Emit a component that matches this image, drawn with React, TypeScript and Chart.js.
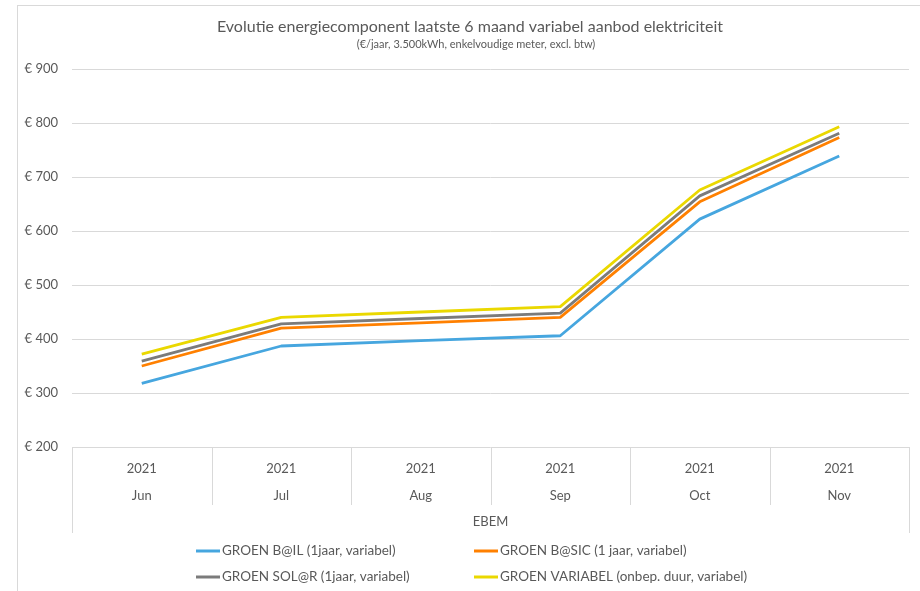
import React, { useEffect, useRef } from "react";
import { Chart, registerables } from "chart.js";

Chart.register(...registerables);

const TITLE = "Evolutie energiecomponent laatste 6 maand variabel aanbod elektriciteit";
const SUBTITLE = "(€/jaar, 3.500kWh, enkelvoudige meter, excl. btw)";
const GROUP_LABEL = "EBEM";

const YEARS = ["2021", "2021", "2021", "2021", "2021", "2021"];
const MONTHS = ["Jun", "Jul", "Aug", "Sep", "Oct", "Nov"];

const SERIES_NAMES = [
  "GROEN B@IL (1jaar, variabel)",
  "GROEN B@SIC (1 jaar, variabel)",
  "GROEN SOL@R (1jaar, variabel)",
  "GROEN VARIABEL (onbep. duur, variabel)",
];
const BAIL = [318, 387, 397, 406, 622, 739];
const BASIC = [350, 420, 430, 440, 654, 773];
const SOLAR = [359, 428, 438, 448, 665, 781];
const VARIABEL = [372, 440, 450, 460, 676, 793];

const Y_MIN = 200;
const Y_MAX = 900;
const Y_STEP = 100;

const COLORS = ["#46A6DF", "#FF8000", "#7B7B7B", "#EAD800"];
const TEXT = "#595959";
const GRID = "#D9D9D9";
const FONT = "Lato, 'Open Sans', sans-serif";

const decor = {
  id: "decor",
  beforeDraw(chart: any) {
    const { ctx } = chart;
    ctx.save();
    ctx.fillStyle = "#ffffff";
    ctx.fillRect(0, 0, chart.width, chart.height);
    ctx.strokeStyle = GRID;
    ctx.lineWidth = 1;
    ctx.strokeRect(17.5, 5.5, 2000, 2000);
    ctx.restore();
  },
  afterDraw(chart: any) {
    const { ctx, chartArea } = chart;
    const x = chart.scales.x;
    const n = chart.data.labels.length;
    ctx.save();
    // multi-level category separators
    ctx.strokeStyle = GRID;
    ctx.lineWidth = 1;
    for (let i = 0; i <= n; i++) {
      const px = Math.round(x.getPixelForValue(i - 0.5)) + 0.5;
      const bottom = i === 0 || i === n ? 533 : 505;
      ctx.beginPath();
      ctx.moveTo(px, chartArea.bottom);
      ctx.lineTo(px, bottom);
      ctx.stroke();
    }
    // group label
    ctx.fillStyle = TEXT;
    ctx.textAlign = "center";
    ctx.textBaseline = "middle";
    ctx.font = `13px ${FONT}`;
    ctx.fillText(GROUP_LABEL, (chartArea.left + chartArea.right) / 2, 522);
    // title + subtitle
    ctx.font = `16px ${FONT}`;
    ctx.fillText(TITLE, 470, 27);
    ctx.font = `11px ${FONT}`;
    ctx.fillText(SUBTITLE, 476, 44);
    // legend (2 columns)
    const cols = [196, 474];
    const rows = [551, 577];
    ctx.font = `13.5px ${FONT}`;
    ctx.textAlign = "left";
    chart.data.datasets.forEach((ds: any, i: number) => {
      const cx = cols[i % 2];
      const cy = rows[Math.floor(i / 2)];
      ctx.strokeStyle = ds.borderColor;
      ctx.lineWidth = 3;
      ctx.beginPath();
      ctx.moveTo(cx, cy);
      ctx.lineTo(cx + 24, cy);
      ctx.stroke();
      ctx.fillStyle = TEXT;
      ctx.fillText(ds.label, cx + 26, cy);
    });
    ctx.restore();
  },
};

export default function App() {
  const ref = useRef<HTMLCanvasElement | null>(null);
  useEffect(() => {
    if (!ref.current) return;
    const labels = MONTHS.map((m, i) => [YEARS[i], m]);
    const seriesValues = [BAIL, BASIC, SOLAR, VARIABEL];
    const chart = new Chart(ref.current, {
      type: "line",
      data: {
        labels,
        datasets: seriesValues.map((d, i) => ({
          label: SERIES_NAMES[i],
          data: d,
          borderColor: COLORS[i],
          backgroundColor: COLORS[i],
          borderWidth: 2.8,
          pointRadius: 0,
          tension: 0,
          borderJoinStyle: "round",
        })),
      },
      options: {
        responsive: false,
        maintainAspectRatio: false,
        animation: false,
        layout: { padding: { left: 17, right: 11, top: 69, bottom: 0 } },
        plugins: {
          legend: { display: false },
          title: { display: false },
          tooltip: { enabled: false },
        },
        scales: {
          x: {
            offset: true,
            grid: { display: false },
            border: { display: false },
            ticks: {
              color: TEXT,
              padding: 0,
              maxRotation: 0,
              autoSkip: false,
              font: { family: FONT, size: 13, lineHeight: "27px" },
            },
            afterFit: (s: any) => {
              s.height = 144;
            },
          },
          y: {
            min: Y_MIN,
            max: Y_MAX,
            grid: { color: GRID, lineWidth: 1, drawTicks: false },
            border: { display: false },
            ticks: {
              stepSize: Y_STEP,
              color: TEXT,
              padding: 14,
              font: { family: FONT, size: 13 },
              callback: (v: any) => "€ " + v,
            },
            afterFit: (s: any) => {
              s.width = 55;
            },
          },
        },
      },
      plugins: [decor],
    });
    return () => chart.destroy();
  }, []);
  return (
    <div style={{ position: "absolute", left: 0, top: 0, width: 920, height: 591 }}>
      <canvas ref={ref} width={920} height={591} />
    </div>
  );
}
